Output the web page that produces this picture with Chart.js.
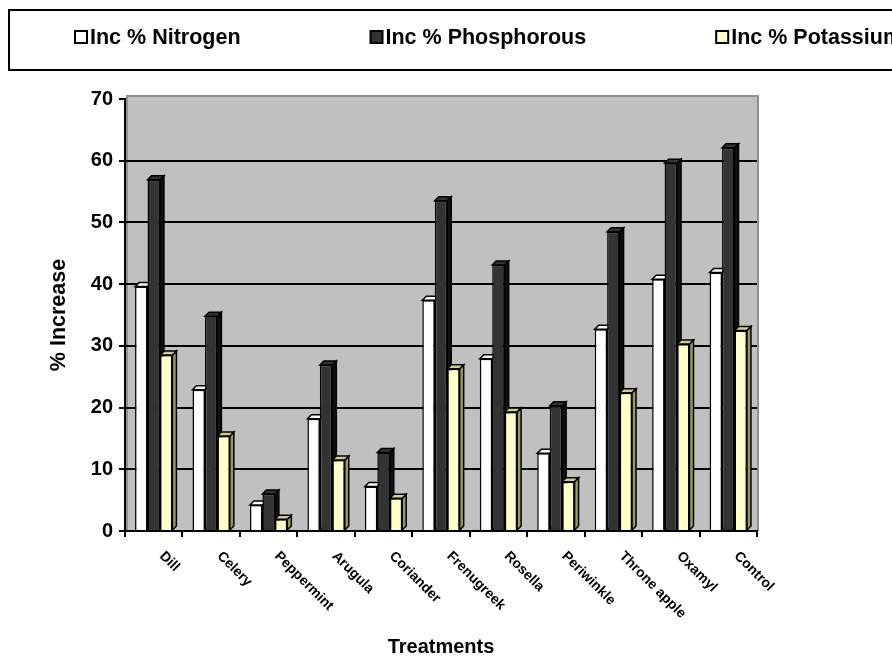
<!DOCTYPE html>
<html>
<head>
<meta charset="utf-8">
<script src="https://cdn.jsdelivr.net/npm/chart.js"></script>
<style>
  html, body { margin: 0; padding: 0; background: #fff; }
</style>
</head>
<body>
<canvas id="nutrientChart" width="892" height="657"></canvas>
<script>
// values
const treatments = ['Dill', 'Celery', 'Peppermint', 'Arugula', 'Coriander', 'Frenugreek', 'Rosella', 'Periwinkle', 'Throne apple', 'Oxamyl', 'Control'];
const nitrogen = [39.6, 22.9, 4.2, 18.2, 7.2, 37.4, 27.9, 12.6, 32.7, 40.8, 41.9];
const phosphorous = [56.9, 34.8, 6.0, 26.9, 12.7, 53.5, 43.1, 20.3, 48.5, 59.6, 62.1];
const potassium = [28.5, 15.4, 1.9, 11.5, 5.3, 26.3, 19.3, 8.0, 22.4, 30.3, 32.5];
const seriesNames = ['Inc % Nitrogen', 'Inc % Phosphorous', 'Inc % Potassium'];
const yTicks = [0, 10, 20, 30, 40, 50, 60, 70];

const FONT = '"Liberation Sans", Arial, sans-serif';
const fronts = ['#FFFFFF', '#333333', '#FFFFCC'];
const tops = ['#FFFFFF', '#333333', '#CCCC99'];
const sides = ['#E0E0E0', '#111111', '#999966'];
const DEPTH = 4;

// gray back wall behind the plot
const wallPlugin = {
    id: 'wall',
    beforeDraw(chart) {
        const { ctx, chartArea: a } = chart;
        ctx.save();
        ctx.fillStyle = '#C0C0C0';
        ctx.fillRect(a.left + 2, a.top - 3, a.right - a.left - 1, a.bottom - a.top + 3);
        ctx.strokeStyle = '#909090';
        ctx.lineWidth = 2;
        ctx.beginPath();
        ctx.moveTo(a.left + 2, a.bottom);
        ctx.lineTo(a.left + 2, a.top - 3);
        ctx.lineTo(a.right + 1, a.top - 3);
        ctx.lineTo(a.right + 1, a.bottom);
        ctx.stroke();
        ctx.restore();
    }
};

// top and side faces so the bars look like the 3D columns
const depthPlugin = {
    id: 'depth',
    beforeDatasetsDraw(chart) {
        const ctx = chart.ctx;
        const d = DEPTH;
        ctx.save();
        ctx.lineWidth = 1.5;
        ctx.strokeStyle = '#000';
        for (let i = 0; i < treatments.length; i++) {
            chart.data.datasets.forEach((ds, k) => {
                const bar = chart.getDatasetMeta(k).data[i];
                const { x, y, base, width } = bar.getProps(['x', 'y', 'base', 'width'], true);
                const l = x - width / 2, r = x + width / 2;
                ctx.beginPath();
                ctx.moveTo(r, y);
                ctx.lineTo(r + d, y - d);
                ctx.lineTo(r + d, base - d);
                ctx.lineTo(r, base);
                ctx.closePath();
                ctx.fillStyle = sides[k];
                ctx.fill();
                ctx.stroke();
                ctx.beginPath();
                ctx.moveTo(l, y);
                ctx.lineTo(l + d, y - d);
                ctx.lineTo(r + d, y - d);
                ctx.lineTo(r, y);
                ctx.closePath();
                ctx.fillStyle = tops[k];
                ctx.fill();
                ctx.stroke();
            });
        }
        ctx.restore();
    }
};

// slanted category names, reading downwards like the original
const xLabelPlugin = {
    id: 'xLabels',
    afterDraw(chart) {
        const ctx = chart.ctx;
        const xs = chart.scales.x;
        ctx.save();
        ctx.font = 'bold 14px ' + FONT;
        ctx.fillStyle = '#000';
        ctx.textAlign = 'left';
        ctx.textBaseline = 'top';
        treatments.forEach((t, i) => {
            ctx.save();
            ctx.translate(xs.getPixelForValue(i) + 13, xs.top + 18);
            ctx.rotate(Math.PI / 4);
            ctx.fillText(t, 0, 0);
            ctx.restore();
        });
        ctx.restore();
    }
};

// boxed legend along the top
const legendPlugin = {
    id: 'boxLegend',
    afterDraw(chart) {
        const ctx = chart.ctx;
        ctx.save();
        ctx.lineWidth = 2;
        ctx.strokeStyle = '#000';
        ctx.strokeRect(9, 10, 900, 60);
        ctx.font = 'bold 21.5px ' + FONT;
        ctx.textBaseline = 'middle';
        ctx.textAlign = 'left';
        let x = 75;
        chart.data.datasets.forEach((ds) => {
            ctx.fillStyle = ds.backgroundColor;
            ctx.fillRect(x, 31, 12, 12);
            ctx.lineWidth = 2;
            ctx.strokeRect(x, 31, 12, 12);
            ctx.fillStyle = '#000';
            ctx.fillText(ds.label, x + 15, 38);
            x += 15 + ctx.measureText(ds.label).width + 130;
        });
        ctx.restore();
    }
};

new Chart(document.getElementById('nutrientChart').getContext('2d'), {
    type: 'bar',
    data: {
        labels: treatments,
        datasets: [
            { label: seriesNames[0], data: nitrogen, backgroundColor: fronts[0] },
            { label: seriesNames[1], data: phosphorous, backgroundColor: fronts[1] },
            { label: seriesNames[2], data: potassium, backgroundColor: fronts[2] }
        ].map(ds => Object.assign(ds, {
            borderColor: '#000',
            borderWidth: 1.5,
            barPercentage: 1,
            categoryPercentage: 0.65
        }))
    },
    options: {
        responsive: false,
        animation: false,
        devicePixelRatio: 1,
        layout: { padding: { top: 99, right: 135, bottom: 0, left: 0 } },
        plugins: {
            legend: { display: false },
            tooltip: { enabled: false }
        },
        scales: {
            x: {
                afterFit(s) { s.height = 126; },
                grid: { drawOnChartArea: false, drawTicks: true, tickLength: 6, tickColor: '#000', lineWidth: 2 },
                border: { color: '#000', width: 2 },
                ticks: { display: false },
                title: {
                    display: true,
                    text: 'Treatments',
                    color: '#000',
                    font: { family: FONT, size: 20, weight: 'bold', lineHeight: 1 },
                    padding: { top: 0, bottom: 0 }
                }
            },
            y: {
                min: 0,
                max: 70,
                afterFit(s) { s.width = 125; },
                afterBuildTicks(s) { s.ticks = yTicks.map(v => ({ value: v })); },
                grid: {
                    color: ctx => (ctx.tick && ctx.tick.value > 0 && ctx.tick.value < 70) ? '#000' : 'rgba(0,0,0,0)',
                    tickColor: '#000',
                    lineWidth: 2,
                    tickLength: 6
                },
                border: { color: '#000', width: 2 },
                ticks: {
                    color: '#000',
                    padding: 6,
                    font: { family: FONT, size: 20, weight: 'bold' }
                },
                title: {
                    display: true,
                    text: '% Increase',
                    color: '#000',
                    font: { family: FONT, size: 21.5, weight: 'bold', lineHeight: 1 },
                    padding: { top: 48, bottom: 0 }
                }
            }
        }
    },
    plugins: [wallPlugin, depthPlugin, xLabelPlugin, legendPlugin]
});
</script>
</body>
</html>
